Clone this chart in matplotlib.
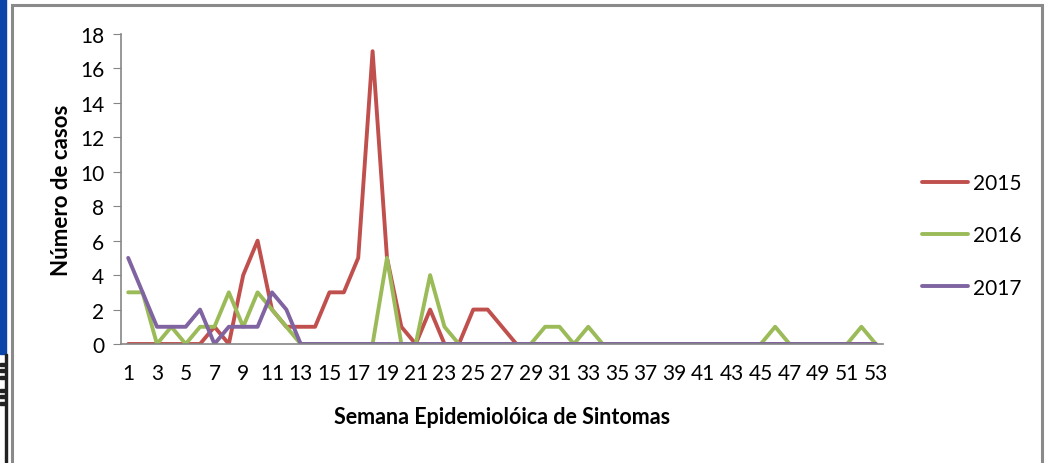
import numpy as np
import matplotlib
matplotlib.use("Agg")
import matplotlib.pyplot as plt
from matplotlib.patches import Rectangle

plt.rcParams['font.family'] = ['Lato', 'DejaVu Sans']

semanas = list(range(1, 54))
casos_2015 = [0, 0, 0, 0, 0, 0, 1, 0, 4, 6, 2, 1, 1, 1, 3, 3, 5, 17, 5, 1,
              0, 2, 0, 0, 2, 2, 1, 0] + [0] * 25
casos_2016 = [3, 3, 0, 1, 0, 1, 1, 3, 1, 3, 2, 1, 0, 0, 0, 0, 0, 0, 5, 0,
              0, 4, 1, 0, 0, 0, 0, 0, 0, 1, 1, 0, 1] + [0] * 12 + [1] + [0] * 5 + [1, 0]
casos_2017 = [5, 3, 1, 1, 1, 2, 0, 1, 1, 1, 3, 2] + [0] * 41
anos = ['2015', '2016', '2017']
cores = ['#C0504D', '#9BBB59', '#8064A2']

W, H = 1049, 464
fig = plt.figure(figsize=(W / 100, H / 100), dpi=100)
ax = fig.add_axes([121 / W, 1 - 345 / H, (883 - 121) / W, (345 - 35) / H])

for serie, ano, cor in zip([casos_2015, casos_2016, casos_2017], anos, cores):
    ax.plot(semanas, serie, color=cor, linewidth=2.8, label=ano, solid_capstyle='round')

ax.set_xlim(0.5, 53.5)
ax.set_ylim(0, 18)
ax.set_yticks(range(0, 19, 2))
ax.set_xticks(semanas[::2])
ax.tick_params(axis='y', labelsize=15, length=6, color='#868686', pad=6)
ax.tick_params(axis='x', labelsize=15, length=0, pad=14)
for s in ['top', 'right']:
    ax.spines[s].set_visible(False)
for s in ['left', 'bottom']:
    ax.spines[s].set_color('#868686')
    ax.spines[s].set_linewidth(1.2)

ax.set_ylabel('Número de casos', fontsize=16, fontweight='bold', labelpad=6)
ax.set_xlabel('Semana Epidemiolóica de Sintomas', fontsize=15.5, fontweight='bold', labelpad=16)

ax.legend(loc='center left', bbox_to_anchor=(1.027, 0.35), frameon=False,
          fontsize=15, handlelength=2.2, handletextpad=0.25, labelspacing=1.55)

# moldura e faixa azul da captura
fig.patches.append(Rectangle((0, 1 - 355 / H), 6 / W, 355 / H, transform=fig.transFigure,
                             color='#0B45A8', zorder=0))
fig.patches.append(Rectangle((5 / W, 0), 1.5 / W, 1 - 355 / H, transform=fig.transFigure,
                             color='#222222', zorder=0))
for yy in [367, 373, 380, 393, 399, 406]:
    fig.patches.append(Rectangle((0, 1 - yy / H), 6 / W, 3 / H, transform=fig.transFigure,
                                 color='#222222', zorder=0))
fig.patches.append(Rectangle((12 / W, -0.01), (1042 - 12) / W, 1 - 6 / H + 0.01,
                             transform=fig.transFigure, fill=False, edgecolor='#8A8A8A',
                             linewidth=2.2, zorder=0))

fig.savefig('out.png', dpi=100)
